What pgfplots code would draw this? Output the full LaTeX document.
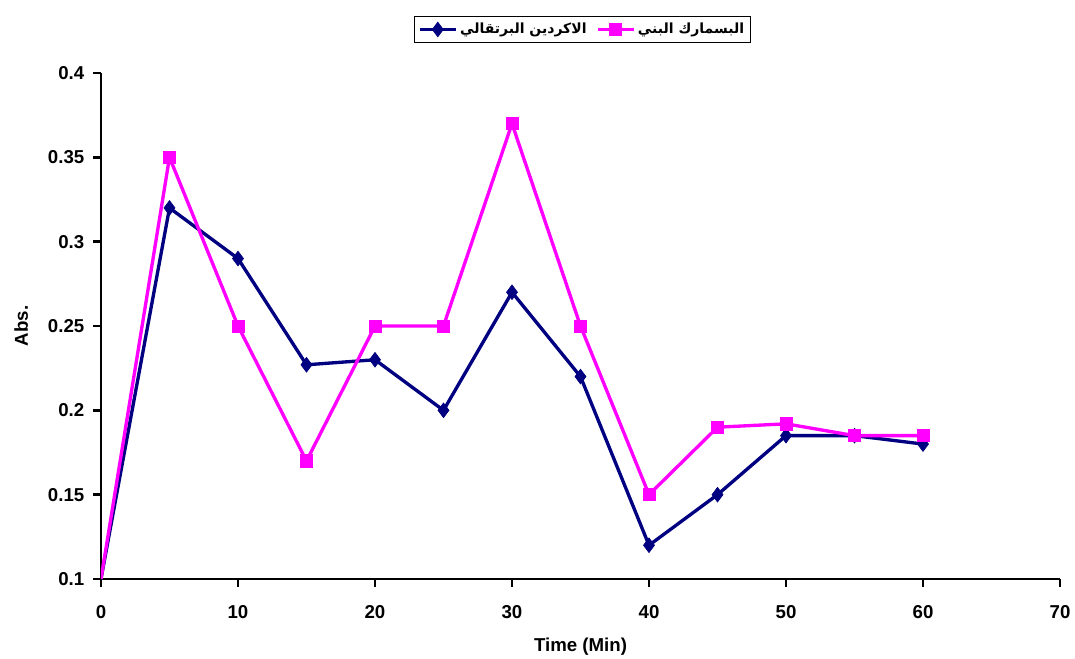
\documentclass[border=0pt]{standalone}
\usepackage{fontspec}
\usepackage{pgfplots}
\pgfplotsset{compat=1.18}
\setmainfont{Liberation Sans}
\newfontfamily\arabicfont[Script=Arabic]{DejaVu Sans}
\TeXXeTstate=1
\definecolor{navyc}{HTML}{000080}
\definecolor{magc}{HTML}{FF00FF}
\begin{document}
\begin{tikzpicture}
\useasboundingbox (0,0) rectangle (806.25pt,493.5pt);
\begin{axis}[
  at={(75.75pt,59.25pt)}, anchor=south west,
  scale only axis, width=719.25pt, height=379.5pt,
  xmin=0, xmax=70, ymin=0.1, ymax=0.4,
  xtick={0,10,...,70}, ytick={0.1,0.15,...,0.4},
  axis x line*=bottom, axis y line*=left,
  axis line style={line width=2.2pt, -},
  tick style={line width=1.8pt, black},
  tick align=outside, major tick length=6pt,
  /pgf/number format/assume math mode=true,
  ticklabel style={font=\fontsize{14}{16}\selectfont\bfseries},
  yticklabels={0.1,0.15,0.2,0.25,0.3,0.35,0.4},
  xticklabel style={yshift=-10pt},
  yticklabel style={xshift=-3pt},
  xlabel={\fontsize{14}{16}\selectfont\bfseries Time (Min)},
  ylabel={\fontsize{14}{16}\selectfont\bfseries Abs.},
  xlabel style={yshift=-8pt},
  ylabel style={yshift=8pt},
  legend columns=2,
  legend style={at={(0.502,1.086)}, anchor=center, draw=black, line width=0.9pt,
    font=\fontsize{10.5}{15}\selectfont\bfseries, inner sep=3pt,
    /tikz/every even column/.append style={column sep=5pt}},
  legend image code/.code={\draw[#1] (0cm,0cm) -- (0.95cm,0cm); \draw[#1, mark repeat=1, mark phase=1] plot coordinates {(0.475cm,0cm)};},
]
\addplot[navyc, line width=2.5pt, mark=diamond*, mark phase=2, mark size=5.5pt, mark options={solid, fill=navyc, draw=navyc, line width=0.5pt}] coordinates {
(0,0.1) (5,0.32) (10,0.29) (15,0.227) (20,0.23) (25,0.2) (30,0.27) (35,0.22) (40,0.12) (45,0.15) (50,0.185) (55,0.185) (60,0.18)};
\addlegendentry{\arabicfont\bfseries\beginR الاكردين البرتقالي\endR}
\addplot[magc, line width=2.5pt, mark=square*, mark phase=2, mark size=4.6pt, mark options={solid, fill=magc, draw=magc, line width=0.5pt}] coordinates {
(0,0.1) (5,0.35) (10,0.25) (15,0.17) (20,0.25) (25,0.25) (30,0.37) (35,0.25) (40,0.15) (45,0.19) (50,0.192) (55,0.185) (60,0.185)};
\addlegendentry{\arabicfont\bfseries\beginR البسمارك البني\endR}
\end{axis}
\end{tikzpicture}
\end{document}
